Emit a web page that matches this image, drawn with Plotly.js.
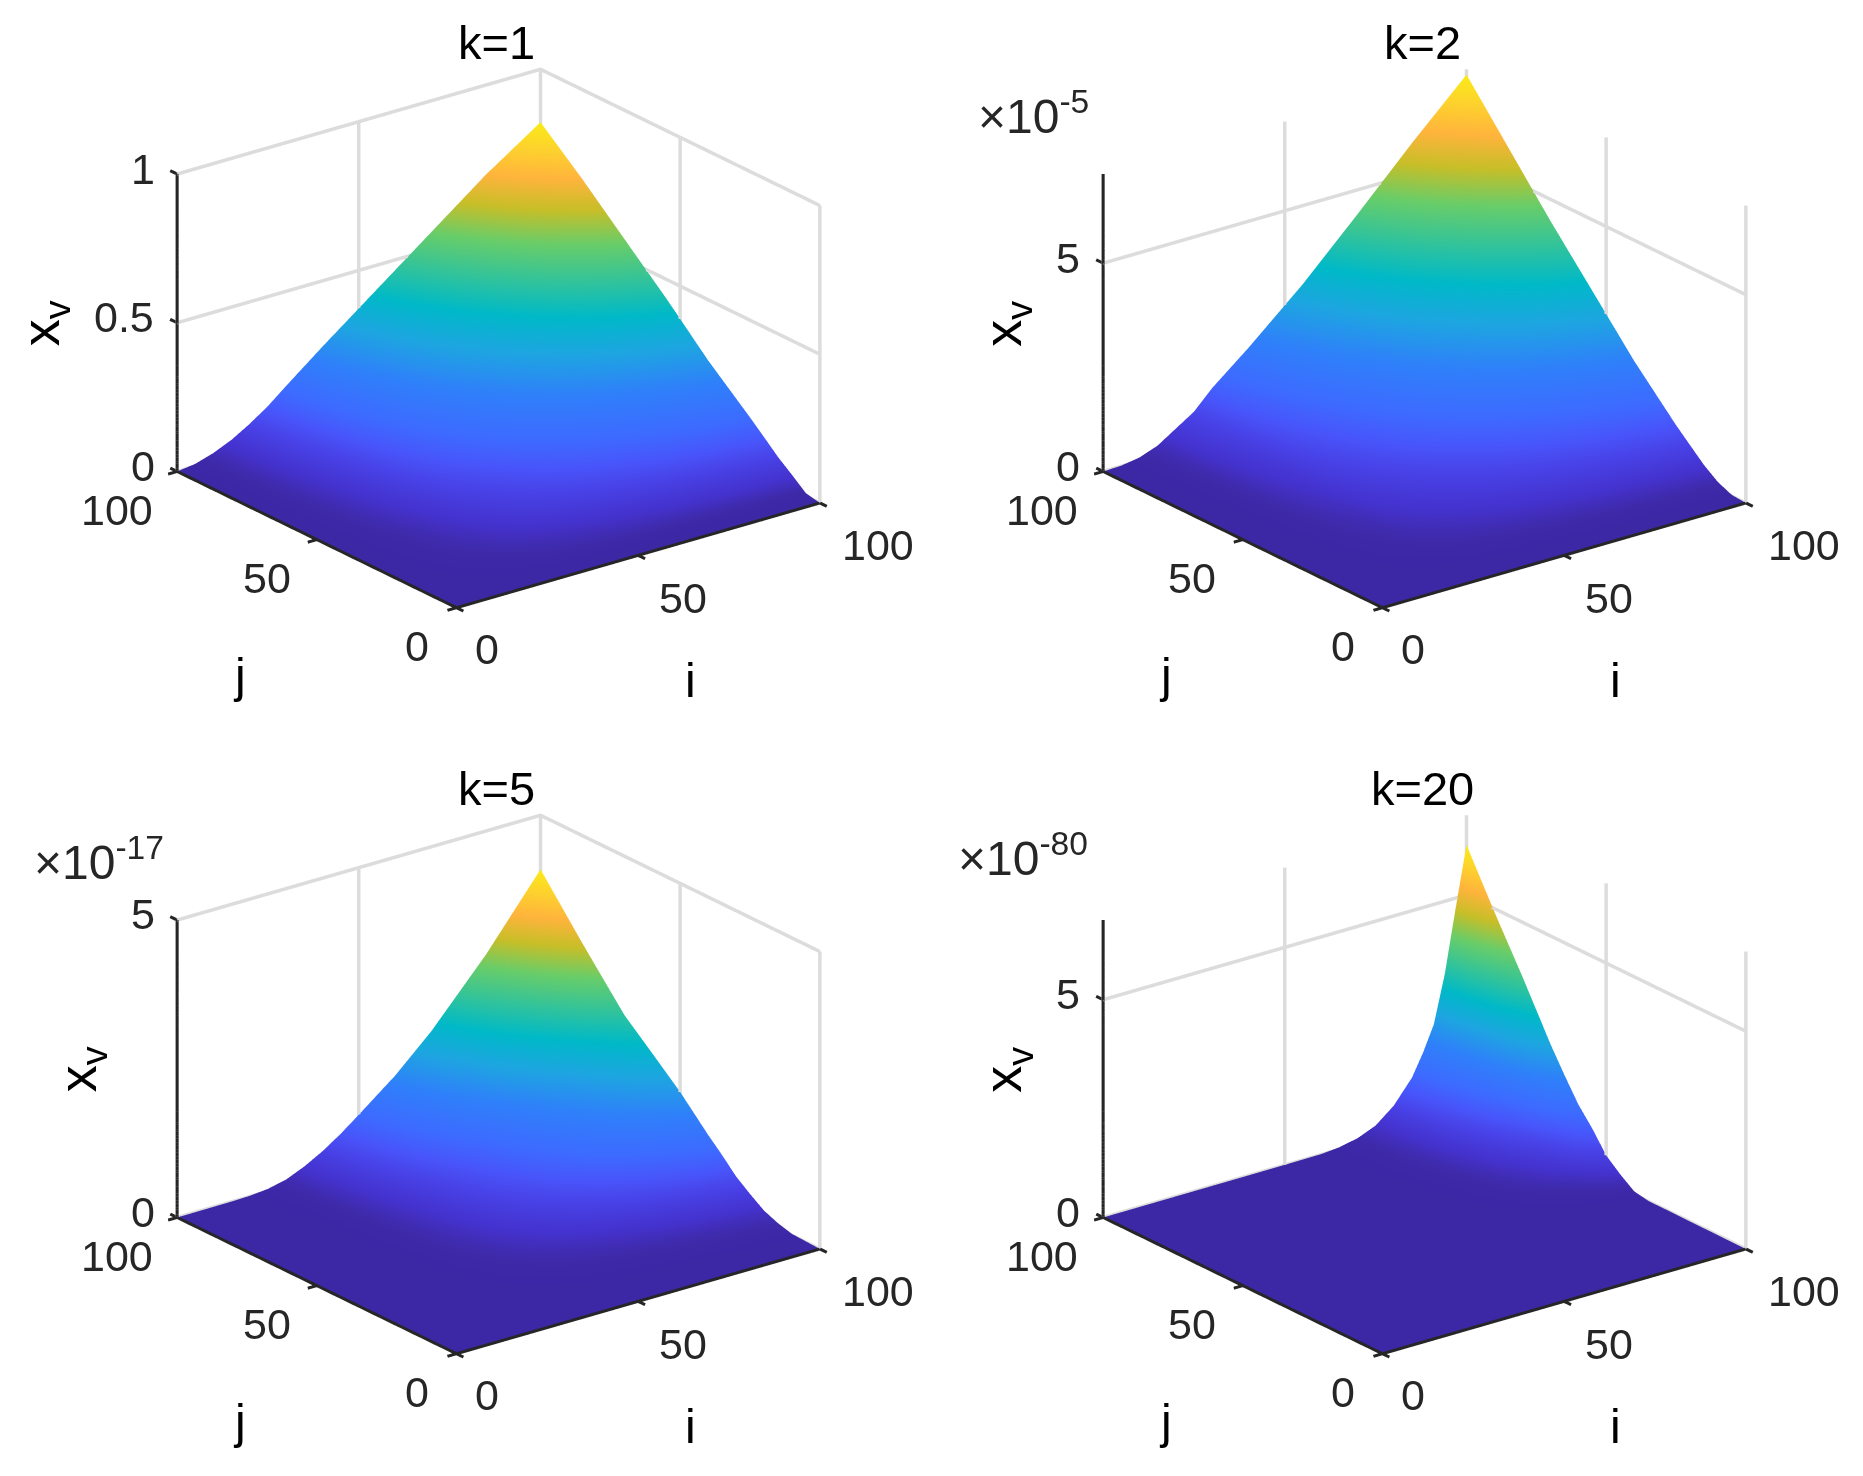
<!DOCTYPE html>
<html><head><meta charset="utf-8">
<script src="https://cdn.plot.ly/plotly-3.0.1.min.js"></script>
<style>html,body{margin:0;padding:0;background:#fff}#c{width:1863px;height:1476px}</style></head>
<body><div id="c"></div>
<script>
const titles = ['k=1','k=2','k=5','k=20'];
const exponents = ['', '-5', '-17', '-80'];
const gridLow = [0,5,10,15,20,25,30,40,55,70,85,100];
const i5 = [0,15,20,25,30,35,40,45,50,60,70,85,100];
const j5 = [0,10,15,20,25,30,35,40,50,60,70,85,100];
const i20 = [0,50,60,65,70,75,80,85,88,91,94,97,100];
const j20 = [0,35,40,45,50,55,60,65,70,75,80,90,100];
const zTop = [1, 7.14, 5, 6.83];
const zTicks = [[0,0.5,1],[0,5],[0,5],[0,5]];
const zTickText = [['0','0.5','1'],['0','5'],['0','5'],['0','5']];
const xyTicks = [0,50,100];
const z1 = [
[0,0,0,0,0,0,0,0,0,0,0,0],
[0,0,0,.001,.001,.002,.002,.003,.005,.007,.008,.01],
[0,0,.002,.003,.005,.008,.011,.017,.025,.034,.042,.049],
[0,.001,.003,.006,.009,.014,.019,.029,.044,.059,.073,.086],
[0,.001,.004,.009,.014,.021,.029,.044,.066,.088,.11,.13],
[0,.002,.006,.011,.019,.028,.038,.059,.088,.117,.147,.173],
[0,.002,.007,.014,.023,.034,.047,.073,.109,.145,.182,.214],
[0,.003,.01,.019,.032,.048,.066,.1,.151,.201,.252,.296],
[0,.004,.014,.029,.048,.07,.096,.148,.222,.296,.37,.436],
[0,.006,.019,.037,.062,.091,.126,.193,.289,.386,.482,.567],
[0,.007,.023,.046,.077,.112,.155,.237,.356,.475,.594,.699],
[0,.008,.027,.054,.09,.132,.182,.279,.419,.559,.699,.822]];
const z2 = [
[0,0,0,0,0,0,0,0,0,0,0,0],
[0,0,0,.001,.002,.003,.005,.008,.012,.018,.023,.028],
[0,0,.002,.006,.013,.02,.031,.049,.078,.11,.144,.175],
[0,.001,.005,.015,.032,.048,.075,.118,.187,.265,.345,.421],
[0,.001,.009,.026,.055,.085,.131,.206,.327,.464,.604,.736],
[0,.002,.013,.037,.079,.121,.187,.294,.468,.662,.862,1.052],
[0,.003,.017,.049,.105,.161,.25,.393,.624,.883,1.15,1.402],
[0,.004,.025,.074,.158,.242,.374,.589,.936,1.325,1.724,2.103],
[0,.007,.039,.115,.247,.379,.587,.923,1.466,2.076,2.702,3.295],
[0,.009,.054,.157,.337,.516,.799,1.256,1.996,2.826,3.679,4.486],
[0,.011,.069,.201,.431,.661,1.023,1.61,2.558,3.621,4.713,5.748],
[0,.014,.084,.245,.526,.806,1.248,1.963,3.119,4.416,5.748,7.01]];
const z5 = [
[0,0,0,0,0,0,0,0,0,0,0,0,0],
[0,0,0,0,.001,.001,.002,.004,.005,.008,.011,.018,.025],
[0,0,0,.001,.002,.005,.009,.014,.019,.029,.042,.064,.09],
[0,0,.001,.002,.005,.011,.019,.028,.039,.061,.087,.135,.188],
[0,0,.001,.004,.009,.021,.035,.053,.073,.114,.164,.251,.352],
[0,.001,.002,.005,.014,.031,.053,.08,.11,.173,.247,.38,.532],
[0,.001,.002,.008,.021,.046,.078,.117,.161,.253,.361,.556,.777],
[0,.001,.003,.01,.027,.059,.1,.15,.208,.326,.466,.716,1.002],
[0,.001,.004,.015,.04,.088,.149,.224,.309,.485,.694,1.067,1.493],
[0,.002,.006,.019,.051,.113,.191,.287,.396,.622,.89,1.368,1.914],
[0,.002,.007,.023,.063,.137,.233,.35,.483,.758,1.084,1.667,2.331],
[0,.003,.009,.032,.086,.188,.319,.479,.661,1.037,1.484,2.281,3.19],
[0,.004,.012,.041,.11,.241,.409,.614,.847,1.329,1.902,2.924,4.09]];
const z20 = [
[0,0,0,0,0,0,0,0,0,0,0,0,0],
[0,0,0,0,0,.001,.001,.002,.003,.004,.007,.01,.012],
[0,0,0,.001,.002,.004,.008,.014,.02,.027,.04,.057,.074],
[0,0,.001,.002,.007,.015,.032,.058,.083,.112,.166,.238,.308],
[0,.001,.001,.005,.013,.029,.061,.111,.158,.213,.315,.453,.584],
[0,.001,.002,.008,.023,.052,.11,.199,.282,.382,.565,.81,1.046],
[0,.001,.003,.012,.032,.072,.152,.275,.39,.528,.78,1.12,1.445],
[0,.002,.004,.016,.043,.099,.207,.374,.532,.718,1.063,1.525,1.968],
[0,.002,.005,.02,.055,.126,.265,.479,.681,.92,1.362,1.954,2.522],
[0,.003,.006,.025,.069,.157,.329,.596,.847,1.145,1.694,2.431,3.137],
[0,.004,.007,.03,.082,.188,.394,.713,1.013,1.369,2.026,2.907,3.752],
[0,.005,.01,.039,.108,.246,.517,.935,1.329,1.796,2.657,3.813,4.92],
[0,.006,.012,.049,.135,.308,.646,1.169,1.661,2.245,3.321,4.766,6.15]];
const surfaces = [z1,z2,z5,z20];
const iGrids = [gridLow,gridLow,i5,i20];
const jGrids = [gridLow,gridLow,j5,j20];

const map = [[0,'rgb(60,40,165)'],[.02,'rgb(62,42,170)'],[.05,'rgb(68,50,205)'],[.1,'rgb(72,65,230)'],[.15,'rgb(72,85,250)'],[.2,'rgb(62,105,255)'],[.3,'rgb(47,128,250)'],[.4,'rgb(30,165,225)'],[.49,'rgb(0,185,200)'],[.58,'rgb(50,195,155)'],[.68,'rgb(105,205,105)'],[.77,'rgb(200,190,40)'],[.85,'rgb(255,180,60)'],[.93,'rgb(253,210,45)'],[1,'rgb(250,235,25)']];
const W=1863,H=1476,S=1.188;
const TL=2.5, K=1.4125, ZPAD=0.005;
const eyeDir=[-0.565,-0.735,0.375];
const domains=[[[.03758,.49758],[.5503,.9903]],[[.53436,.99436],[.5503,.9903]],[[.03758,.49758],[.0449,.4849]],[[.53436,.99436],[.0449,.4849]]];
const titlePos=[[418,36],[1197,36],[418,664],[1197,664]];
const expPos=[null,[870,95],[83,723],[861,720]];
const xvShift=[-112,-81,-81,-81];
const font={family:'Liberation Sans, Arial, sans-serif',size:43,color:'#262626'};
const traces=[],layout={width:W,height:H,margin:{l:0,r:0,t:0,b:0},paper_bgcolor:'#fff',showlegend:false,annotations:[]};
function tick(x,y,z,text,dx,dy,extra){return Object.assign({x,y,z,text,showarrow:false,xanchor:'center',yanchor:'middle',xshift:dx*S,yshift:-dy*S,font},extra||{});}
function segs(list){const o={x:[],y:[],z:[]};list.forEach(s=>{s.forEach(p=>{o.x.push(p[0]);o.y.push(p[1]);o.z.push(p[2]);});o.x.push(null);o.y.push(null);o.z.push(null);});return o;}
function line3(id,list,color,width){const s=segs(list);return {type:'scatter3d',mode:'lines',scene:id,x:s.x,y:s.y,z:s.z,line:{color,width},hoverinfo:'skip',connectgaps:false};}
surfaces.forEach((z,n)=>{
  const id=n?('scene'+(n+1)):'scene';
  const peak=Math.max(...z.map(r=>Math.max(...r)));
  const top=zTop[n];
  const gl=[];
  xyTicks.forEach(v=>{gl.push([[v,100,0],[v,100,top]]);gl.push([[100,v,0],[100,v,top]]);});
  zTicks[n].forEach(v=>gl.push([[0,100,v],[100,100,v],[100,0,v]]));
  traces.push(line3(id,gl,'#dcdcdc',7));
  traces.push({type:'surface',scene:id,x:iGrids[n],y:jGrids[n],z,colorscale:map,cmin:0,cmax:peak,showscale:false,hoverinfo:'skip',lighting:{ambient:1,diffuse:0,specular:0,fresnel:0,roughness:1},contours:{x:{highlight:false},y:{highlight:false},z:{highlight:false}}});
  const bl=[[[0,100,top],[0,100,0],[0,0,0],[100,0,0]]];
  xyTicks.forEach(v=>{bl.push([[v,0,0],[v,-TL,0]]);bl.push([[0,v,0],[-TL,v,0]]);});
  zTicks[n].forEach(v=>bl.push([[0,100,v],[0,100+TL,v]]));
  traces.push(line3(id,bl,'#262626',6));
  const ax=()=>({showticklabels:false,showgrid:false,zeroline:false,showline:false,ticks:'',showbackground:false,showspikes:false,title:{text:''}});
  const ann=[];
  xyTicks.forEach((v,k)=>{
    ann.push(tick(v,0,0,String(v),[26,38,49][k],[34,35,35][k]));
    ann.push(tick(0,v,0,String(v),[-33,-42,-51][k],[32,32,32][k]));
  });
  zTicks[n].forEach((v,k)=>ann.push(tick(0,100,v,zTickText[n][k],(zTickText[n][k].length>1?-45:-29),-5)));
  const tf=Object.assign({},font,{color:'#000',size:48});
  ann.push(tick(50,0,0,'i',44,105,{font:tf}));
  ann.push(tick(0,50,0,'j',-65,114,{font:tf}));
  ann.push(tick(0,100,top/2,'x<sub>v</sub>',xvShift[n],0,{textangle:-90,font:Object.assign({},tf,{size:54})}));
  layout[id]={domain:{x:domains[n][0],y:domains[n][1]},aspectmode:'manual',aspectratio:{x:1.05*K,y:1.05*K,z:0.7*K*(1+2*ZPAD)},
    camera:{projection:{type:'orthographic'},center:{x:0,y:0,z:0},up:{x:0,y:0,z:1},eye:{x:eyeDir[0]*2,y:eyeDir[1]*2,z:eyeDir[2]*2}},
    xaxis:Object.assign(ax(),{range:[-TL,100+TL]}),yaxis:Object.assign(ax(),{range:[-TL,100+TL]}),zaxis:Object.assign(ax(),{range:[-top*ZPAD,top*(1+ZPAD)]}),annotations:ann};
  layout.annotations.push({xref:'paper',yref:'paper',x:titlePos[n][0]*S/W,y:1-titlePos[n][1]*S/H,text:titles[n],showarrow:false,xanchor:'center',yanchor:'middle',font:{family:font.family,size:47,color:'#000'}});
  if(exponents[n]) layout.annotations.push({xref:'paper',yref:'paper',x:expPos[n][0]*S/W,y:1-expPos[n][1]*S/H,text:'×10<sup>'+exponents[n]+'</sup>',showarrow:false,xanchor:'center',yanchor:'middle',font:{family:font.family,size:48,color:'#262626'}});
});
Plotly.newPlot('c',traces,layout,{displayModeBar:false});
</script></body></html>
